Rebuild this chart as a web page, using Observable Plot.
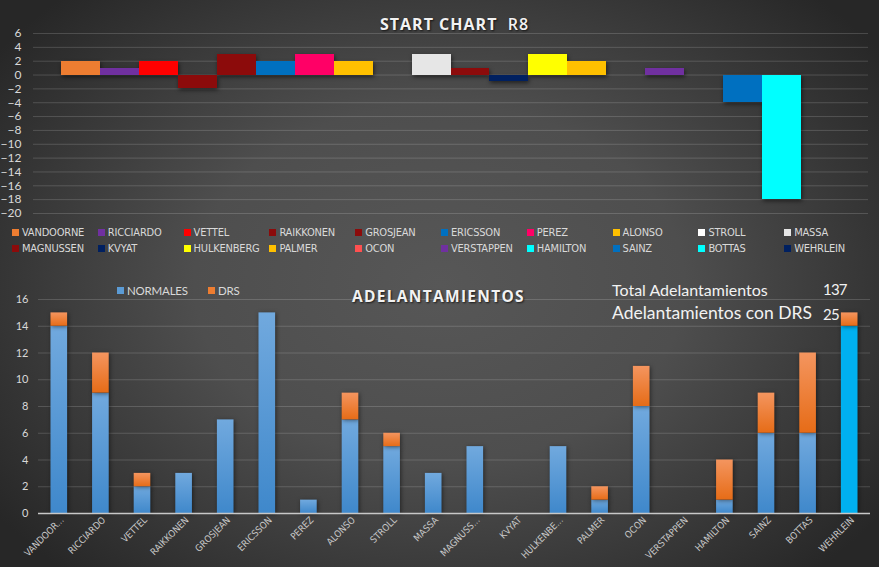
<!DOCTYPE html>
<html>
<head>
<meta charset="utf-8">
<script src="https://cdn.jsdelivr.net/npm/d3@7"></script>
<script src="https://cdn.jsdelivr.net/npm/@observablehq/plot@0.6"></script>
<style>
  html, body { margin: 0; padding: 0; }
  body { width: 879px; height: 567px; overflow: hidden; }
  #wrap {
    position: relative; width: 879px; height: 567px;
    background: radial-gradient(ellipse 62% 70% at 50% 50%, #575757 0%, #4e4e4e 45%, #272727 100%);
    font-family: "Lato", "Open Sans", sans-serif;
    color: #d9d9d9;
  }
  .abs { position: absolute; white-space: nowrap; }
  .title { font-family: "Open Sans", sans-serif; font-weight: 700; color: #f2f2f2;
           text-shadow: 1px 1px 2px rgba(0,0,0,0.7); letter-spacing: 1px; }
  .leg { position: absolute; font-family: "Liberation Sans Narrow", "DejaVu Sans Condensed", sans-serif;
         font-size: 11px; letter-spacing: -0.2px; color: #d9d9d9; display: flex; align-items: center; white-space: nowrap; }
  .leg i { display: inline-block; width: 7px; height: 7px; margin-right: 3px; }
  svg { position: absolute; left: 0; }
</style>
</head>
<body>
<div id="wrap"></div>
<script>
// ---------- DATA ----------
const drivers = ["VANDOORNE","RICCIARDO","VETTEL","RAIKKONEN","GROSJEAN","ERICSSON","PEREZ","ALONSO","STROLL","MASSA",
                 "MAGNUSSEN","KVYAT","HULKENBERG","PALMER","OCON","VERSTAPPEN","HAMILTON","SAINZ","BOTTAS","WEHRLEIN"];
const driverColors = ["#ed7d31","#7030a0","#ff0000","#8c0b0b","#8c0b0b","#0070c0","#ff0066","#ffc000","#ffffff","#e6e6e6",
                      "#8c0b0b","#002060","#ffff00","#ffc000","#ff5050","#7030a0","#00ffff","#0070c0","#00ffff","#002060"];
const startGain = [2,1,2,-2,3,2,3,2,0,3, 1,-1,3,2,0,1,0,-4,-18,0];
const startTicks = [-20,-18,-16,-14,-12,-10,-8,-6,-4,-2,0,2,4,6];

const xLabels = ["VANDOOR...","RICCIARDO","VETTEL","RAIKKONEN","GROSJEAN","ERICSSON","PEREZ","ALONSO","STROLL","MASSA",
                 "MAGNUSS...","KVYAT","HULKENBE...","PALMER","OCON","VERSTAPPEN","HAMILTON","SAINZ","BOTTAS","WEHRLEIN"];
const normales = [14,9,2,3,7,15,1,7,5,3, 5,0,5,1,8,0,1,6,6,14];
const drs      = [1,3,1,0,0,0,0,2,1,0, 0,0,0,1,3,0,3,3,6,1];
const overtakeTicks = [0,2,4,6,8,10,12,14,16];
const seriesNames = ["NORMALES","DRS"];
const totalLabel = "Total Adelantamientos", totalValue = 137;
const drsLabel = "Adelantamientos con DRS", drsValue = 25;

// ---------- BUILD ----------
const wrap = document.getElementById("wrap");
const startData = drivers.map((d, i) => ({driver: d, pos: startGain[i], color: driverColors[i]}));

const topPlot = Plot.plot({
  width: 879, height: 220,
  marginLeft: 33, marginRight: 11, marginTop: 33, marginBottom: 7,
  style: {background: "transparent", color: "#d9d9d9", fontSize: "12px", fontFamily: "Lato, 'Open Sans', sans-serif"},
  x: {domain: drivers, paddingInner: 0, paddingOuter: 0.73, round: false, axis: null},
  y: {domain: [-20, 6], axis: null},
  color: {type: "identity"},
  marks: [
    Plot.gridY(startTicks, {stroke: "#ffffff", strokeOpacity: 0.16, strokeWidth: 1}),
    Plot.axisY(startTicks, {tickSize: 0, tickPadding: 12, label: null, fontSize: 12, fill: "#d9d9d9"}),
    Plot.barY(startData, {x: "driver", y: "pos", fill: "color", shapeRendering: "crispEdges"})
  ]
});
topPlot.style.top = "0px";
wrap.appendChild(topPlot);
d3.select(topPlot).selectAll("g[aria-label=bar]").style("filter", "drop-shadow(1px 2px 2px rgba(0,0,0,0.55))");

// title top
const t1 = document.createElement("div");
t1.className = "abs title";
t1.style.cssText = "left:380px; top:13px; font-size:16px;";
t1.innerHTML = 'START CHART&nbsp;&nbsp;<span style="font-weight:600">R8</span>';
wrap.appendChild(t1);

// top legend
drivers.forEach((d, i) => {
  const col = i % 10, row = Math.floor(i / 10);
  const el = document.createElement("div");
  el.className = "leg";
  el.style.left = (12 + col * 85.8) + "px";
  el.style.top = (226 + row * 15.5) + "px";
  el.innerHTML = `<i style="background:${driverColors[i]}"></i>${d}`;
  wrap.appendChild(el);
});

// bottom chart
const normalData = drivers.map((d, i) => ({driver: d, y1: 0, y2: normales[i], fill: d === "WEHRLEIN" ? "#00b0f0" : "url(#gBlue)"}));
const drsData = drivers.map((d, i) => ({driver: d, y1: normales[i], y2: normales[i] + drs[i], fill: "url(#gOrange)"}));
const labelOf = new Map(drivers.map((d, i) => [d, xLabels[i]]));

const botPlot = Plot.plot({
  width: 879, height: 307,
  marginLeft: 38, marginRight: 9, marginTop: 39, marginBottom: 54,
  style: {background: "transparent", color: "#d9d9d9", fontSize: "11px", fontFamily: "Lato, 'Open Sans', sans-serif"},
  x: {domain: drivers, paddingInner: 0.6, paddingOuter: 0.3, round: false, axis: null},
  y: {domain: [0, 16], axis: null},
  color: {type: "identity"},
  marks: [
    Plot.gridY(overtakeTicks.filter(t => t > 0), {stroke: "#ffffff", strokeOpacity: 0.16}),
    Plot.axisY(overtakeTicks, {tickSize: 0, tickPadding: 10, label: null, fontSize: 11, fill: "#d9d9d9"}),
    Plot.axisX({tickSize: 0, tickPadding: 5, dx: 3, tickRotate: -45, label: null, tickFormat: d => labelOf.get(d),
                fontSize: 9.5, fill: "#c8c8c8", fontFamily: "'Liberation Sans Narrow', 'DejaVu Sans Condensed', sans-serif"}),
    Plot.barY(normalData.filter(d => d.y2 > d.y1), {x: "driver", y1: "y1", y2: "y2", fill: "fill"}),
    Plot.barY(drsData.filter(d => d.y2 > d.y1), {x: "driver", y1: "y1", y2: "y2", fill: "fill"}),
    Plot.ruleY([0], {stroke: "#c8c8c8", strokeWidth: 1.5})
  ]
});
botPlot.style.top = "260px";
wrap.appendChild(botPlot);
const bsel = d3.select(botPlot);
const defs = bsel.insert("defs", ":first-child");
const g1 = defs.append("linearGradient").attr("id", "gBlue").attr("x1", 0).attr("y1", 0).attr("x2", 0).attr("y2", 1);
g1.append("stop").attr("offset", 0).attr("stop-color", "#71a9de");
g1.append("stop").attr("offset", 1).attr("stop-color", "#3f88cb");
const g2 = defs.append("linearGradient").attr("id", "gOrange").attr("x1", 0).attr("y1", 0).attr("x2", 0).attr("y2", 1);
g2.append("stop").attr("offset", 0).attr("stop-color", "#f4955f");
g2.append("stop").attr("offset", 1).attr("stop-color", "#e66c17");
bsel.selectAll("g[aria-label=bar]").style("filter", "drop-shadow(1px 1px 2px rgba(0,0,0,0.5))");

// bottom title
const t2 = document.createElement("div");
t2.className = "abs title";
t2.style.cssText = "left:352px; top:285px; font-size:15.5px; letter-spacing:1.3px;";
t2.textContent = "ADELANTAMIENTOS";
wrap.appendChild(t2);

// bottom legend
const legColors = ["#5b9bd5", "#ed7d31"];
seriesNames.forEach((s, i) => {
  const el = document.createElement("div");
  el.className = "leg";
  el.style.cssText = `left:${117 + i * 91}px; top:284px; font-family: Lato, 'Open Sans', sans-serif; font-size:11.5px;`;
  el.innerHTML = `<i style="background:${legColors[i]}"></i>${s}`;
  wrap.appendChild(el);
});

// totals
function addText(txt, x, y, size, extra) {
  const el = document.createElement("div");
  el.className = "abs";
  el.style.cssText = `left:${x}px; top:${y}px; font-size:${size}px; color:#f2f2f2; font-family: Lato, 'Open Sans', sans-serif; ${extra || ""}`;
  el.textContent = txt;
  wrap.appendChild(el);
}
addText(totalLabel, 612, 280, 16);
addText(String(totalValue), 823, 280, 15, "letter-spacing:-0.8px;");
addText(drsLabel, 612, 302, 17.5);
addText(String(drsValue), 823, 305, 15, "letter-spacing:-0.8px;");
</script>
</body>
</html>
